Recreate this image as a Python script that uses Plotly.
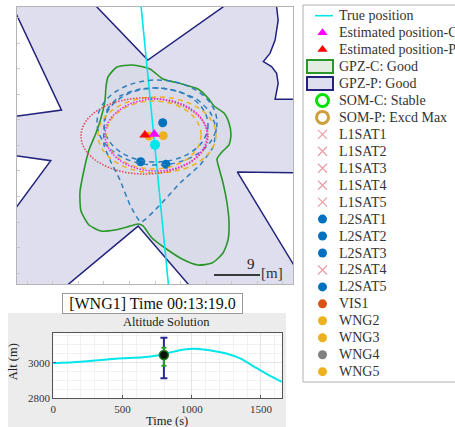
import plotly.graph_objects as go

# ---------------- main map data (metres) ----------------
true_x = [-3.0, 2.9]
true_y = [30.0, -30.0]
true_now_x = [0.0]
true_now_y = [0.1]

est_c_x = [-0.14]
est_c_y = [2.16]
est_p_x = [-1.96]
est_p_y = [2.03]

gpzp_x = [-30.3, -13.6, -1.4, 16.6, 23.8, 23.8, 24.1, 23.5, 22.5, 21.2, 22.8, 23.8, 24.1, 23.5,
          30.3, 30.3, 16.1, 30.3, 30.3, 9.2, -3.3, -20.7, -30.3, -30.3, -20.4, -30.3, -30.3, -18.3, -30.3]
gpzp_y = [32.4, 29.4, 16.7, 29.4, 29.4, 27.1, 24.5, 20.6, 18.0, 16.4, 15.4, 14.1, 12.1, 9.0,
          9.0, -5.4, -5.2, -28.6, -30.3, -30.3, -15.8, -30.3, -30.3, -16.4, -3.0, -1.6, 5.3, 6.9, 32.4]

gpzc_x = [-9.20, -7.44, -4.31, -0.98, 1.57, 5.28, 8.41, 10.37, 11.55, 13.50, 14.48, 14.87, 14.48,
          13.11, 12.13, 12.52, 13.31, 14.09, 14.48, 14.29, 13.31, 11.15, 8.41, 5.28, 1.96, -0.59,
          -2.35, -3.33, -5.48, -7.83, -10.57, -12.92, -14.48, -14.68, -13.89, -12.92, -11.55,
          -10.57, -9.78, -9.59, -9.20]
gpzc_y = [13.38, 15.33, 15.72, 14.94, 12.98, 12.01, 11.03, 9.27, 7.70, 6.33, 4.37, 2.03, 0.07,
          -1.30, -2.67, -4.43, -7.37, -11.28, -15.00, -18.52, -21.07, -23.03, -23.42, -22.24,
          -20.09, -18.13, -15.78, -15.39, -15.98, -16.57, -16.76, -15.59, -12.85, -9.13, -4.82,
          -0.91, 2.42, 5.35, 8.87, 11.42, 13.38]

kite_x = [-9.98, -9.39, -6.85, -2.94, 0.98, 4.89, 8.41, 10.76, 11.94, 11.35, 8.81, 4.89, 0.98,
          -2.74, -4.89, -6.85, -8.81, -9.98, -9.98]
kite_y = [3.00, 6.92, 9.66, 11.03, 11.22, 10.44, 8.87, 6.52, 3.40, -0.32, -3.84, -7.37, -11.66,
          -14.99, -11.66, -6.78, -2.87, 0.07, 3.00]

# error ellipses (bounding boxes, metres): 2 blue SOM, 2 WNG, P-solution, C-solution
ell_x0 = [-11.35, -9.98, -11.15, -9.59, -14.48, -9.78]
ell_x1 = [12.13, 10.37, 11.94, 9.00, 10.37, 10.18]
ell_y0 = [-3.85, -3.25, -5.41, -4.63, -5.61, -5.02]
ell_y1 = [12.79, 11.22, 9.46, 8.68, 9.27, 9.07]

l2sat_names = ["L2SAT1", "L2SAT2", "L2SAT3", "L2SAT5"]
l2sat_x = [1.51, -2.80, 2.15, None]
l2sat_y = [4.43, -3.20, -3.71, None]

wng_names = ["WNG2", "WNG3", "WNG4", "WNG5"]
wng_x = [1.62, -1.17, None, None]
wng_y = [1.89, 1.80, None, None]

l1sat_names = ["L1SAT1", "L1SAT2", "L1SAT3", "L1SAT4", "L1SAT5"]

scale_len_m = 9
scale_x0 = 11.55
scale_y = -25.37

# legend entries (in order)
legend_labels = ["True position", "Estimated position-C", "Estimated position-P", "GPZ-C: Good",
                 "GPZ-P: Good", "SOM-C: Stable", "SOM-P: Excd Max"] + l1sat_names + \
                ["L2SAT1", "L2SAT2", "L2SAT3", "L2SAT4", "L2SAT5", "VIS1"] + wng_names

# ---------------- altitude inset data ----------------
alt_t = [0, 200, 450, 650, 750, 870, 960, 1010, 1100, 1200, 1250, 1350, 1450, 1550, 1650]
alt_v = [2997, 3005, 3022, 3030, 3040, 3062, 3075, 3078, 3073, 3060, 3052, 3024, 2978, 2933, 2893]
sol_t = [799]
sol_alt = [3043]
err_p_plus, err_p_minus = [97], [130]
err_c_plus, err_c_minus = [41], [60]

SERIF = "Liberation Serif"
W, H = 455, 427

CYAN = "rgb(0,230,235)"
NAVY = "rgb(35,35,125)"
GREEN = "rgb(40,150,40)"
BLUE_D = "rgb(45,125,190)"
BLUE = "rgb(0,114,189)"
YEL = "rgb(237,177,32)"
PINK = "rgb(232,160,168)"
GRAY = "rgb(128,128,128)"
VIS = "rgb(217,83,25)"

fig = go.Figure()

# GPZ-P
fig.add_trace(go.Scatter(x=gpzp_x, y=gpzp_y, mode="lines", fill="toself", showlegend=False,
                         fillcolor="rgb(222,222,238)", line=dict(color=NAVY, width=1.5)))
# GPZ-C
fig.add_trace(go.Scatter(x=gpzc_x, y=gpzc_y, mode="lines", fill="toself", showlegend=False,
                         fillcolor="rgba(60,160,60,0.03)",
                         line=dict(color=GREEN, width=1.6, shape="spline", smoothing=0.6)))
# kite SOM contour
fig.add_trace(go.Scatter(x=kite_x, y=kite_y, mode="lines", showlegend=False,
                         line=dict(color=BLUE_D, width=1.5, dash="5px,4px", shape="spline", smoothing=0.5)))
# true track
fig.add_trace(go.Scatter(x=true_x, y=true_y, mode="lines", showlegend=False, line=dict(color=CYAN, width=1.6)))
# L2 sats
for n, xv, yv in zip(l2sat_names, l2sat_x, l2sat_y):
    fig.add_trace(go.Scatter(x=[xv], y=[yv], mode="markers", name=n, showlegend=False,
                             marker=dict(symbol="circle", size=9, color=BLUE)))
wng_cols = [YEL, YEL, GRAY, YEL]
for i, (n, xv, yv) in enumerate(zip(wng_names, wng_x, wng_y)):
    fig.add_trace(go.Scatter(x=[xv], y=[yv], mode="markers", name=n, showlegend=False,
                             marker=dict(symbol="circle", size=9, color=wng_cols[i])))
fig.add_trace(go.Scatter(x=true_now_x, y=true_now_y, mode="markers", showlegend=False,
                         marker=dict(symbol="circle", size=10, color=CYAN)))
fig.add_trace(go.Scatter(x=est_p_x, y=est_p_y, mode="markers", name="Estimated position-P", showlegend=False,
                         marker=dict(symbol="triangle-up", size=10, color="rgb(255,0,0)")))
fig.add_trace(go.Scatter(x=est_c_x, y=est_c_y, mode="markers", name="Estimated position-C", showlegend=False,
                         marker=dict(symbol="triangle-up", size=10, color="rgb(255,0,255)")))

# ---------------- altitude inset ----------------
fig.add_trace(go.Scatter(x=alt_t, y=alt_v, mode="lines", xaxis="x2", yaxis="y2", showlegend=False,
                         line=dict(color=CYAN, width=2, shape="spline", smoothing=0.8)))
fig.add_trace(go.Scatter(x=sol_t, y=sol_alt, mode="markers", xaxis="x2", yaxis="y2", showlegend=False,
                         marker=dict(size=1, color="rgba(0,0,0,0)"),
                         error_y=dict(type="data", array=err_p_plus, arrayminus=err_p_minus,
                                      color="rgb(40,40,150)", thickness=2, width=3.5)))
fig.add_trace(go.Scatter(x=sol_t, y=sol_alt, mode="markers", xaxis="x2", yaxis="y2", showlegend=False,
                         marker=dict(size=9, color="rgb(10,20,10)", line=dict(color="rgb(30,120,30)", width=1.5)),
                         error_y=dict(type="data", array=err_c_plus, arrayminus=err_c_minus,
                                      color="rgb(40,160,40)", thickness=2, width=2.5)))

# ---------------- manual legend (overlay axes in pixel units) ----------------
LEG_X0, LEG_Y0, LEG_DY = 303, 15.7, 16.95
SYM_X, TXT_X = 322.5, 336.5
row_y = [LEG_Y0 + LEG_DY * i for i in range(len(legend_labels))]
sym_style = [None, ("triangle-up", "rgb(255,0,255)"), ("triangle-up", "rgb(255,0,0)"), None, None,
             ("circle-open", "rgb(0,225,0)"), ("circle-open", "rgb(205,160,60)")] + \
            [("x-thin-open", PINK)] * 5 + \
            [("circle", BLUE)] * 3 + [("x-thin-open", PINK), ("circle", BLUE), ("circle", VIS),
                                      ("circle", YEL), ("circle", YEL), ("circle", GRAY), ("circle", YEL)]
for yy, st in zip(row_y, sym_style):
    if st is None:
        continue
    sym, col = st
    if sym == "circle-open":
        mk = dict(symbol=sym, size=12, color=col, line=dict(width=3, color=col))
    elif sym == "x-thin-open":
        mk = dict(symbol=sym, size=9, color=col, line=dict(width=1.3, color=col))
    else:
        mk = dict(symbol=sym, size=9, color=col)
    fig.add_trace(go.Scatter(x=[SYM_X], y=[yy], mode="markers", xaxis="x3", yaxis="y3",
                             showlegend=False, hoverinfo="skip", marker=mk, cliponaxis=False))

# ---------------- shapes ----------------
shapes = []
shapes.append(dict(type="rect", xref="paper", yref="paper", x0=8 / W, x1=286 / W, y0=-0.02, y1=1 - 313 / H,
                   fillcolor="rgb(236,236,236)", line=dict(width=0), layer="below"))
shapes.append(dict(type="rect", xref="paper", yref="paper", x0=53.3 / W, x1=281.7 / W,
                   y0=1 - 398.3 / H, y1=1 - 333.3 / H, fillcolor="white", line=dict(width=0), layer="below"))
shapes.append(dict(type="rect", xref="paper", yref="paper", x0=LEG_X0 / W, x1=470 / W,
                   y0=1 - 382 / H, y1=1 - 5 / H, fillcolor="white", line=dict(color="#b0b0b0", width=1),
                   layer="below"))
shapes.append(dict(type="line", xref="x3", yref="y3", x0=315, x1=333, y0=row_y[0], y1=row_y[0],
                   line=dict(color=CYAN, width=1.6)))
shapes.append(dict(type="rect", xref="x3", yref="y3", x0=307, x1=333, y0=row_y[3] - 6.5, y1=row_y[3] + 6.5,
                   fillcolor="rgb(226,238,226)", line=dict(color=GREEN, width=2)))
shapes.append(dict(type="rect", xref="x3", yref="y3", x0=307, x1=333, y0=row_y[4] - 6.5, y1=row_y[4] + 6.5,
                   fillcolor="rgb(222,222,238)", line=dict(color=NAVY, width=2)))

ell_cols = [BLUE_D, BLUE_D, YEL, YEL, "rgb(225,70,80)", "rgb(230,40,230)"]
ell_dash = ["5px,4px", "5px,4px", "5px,4px", "5px,4px", "1.5px,1.5px", "1.5px,1.5px"]
for x0, x1, y0, y1, c, d in zip(ell_x0, ell_x1, ell_y0, ell_y1, ell_cols, ell_dash):
    shapes.append(dict(type="circle", xref="x", yref="y", x0=x0, x1=x1, y0=y0, y1=y1,
                       line=dict(color=c, width=1.5, dash=d), layer="above"))
shapes.append(dict(type="line", xref="x", yref="y", x0=scale_x0, x1=scale_x0 + scale_len_m,
                   y0=scale_y, y1=scale_y, line=dict(color="black", width=1.5)))

annotations = [
    dict(text=str(scale_len_m), x=scale_x0 + 7.2, y=scale_y + 0.1, xref="x", yref="y", showarrow=False,
         yanchor="bottom", font=dict(family=SERIF, size=15, color="#222")),
    dict(text="[m]", x=scale_x0 + scale_len_m + 2.4, y=scale_y + 0.4, xref="x", yref="y", showarrow=False,
         yanchor="middle", font=dict(family=SERIF, size=15, color="#333")),
    dict(text="[WNG1] Time 00:13:19.0", x=152.5 / W, y=1 - 303.5 / H, xref="paper", yref="paper",
         showarrow=False, xanchor="center", yanchor="middle", bgcolor="white", bordercolor="#999",
         borderwidth=1, borderpad=1, width=177, font=dict(family=SERIF, size=16, color="#111")),
    dict(text="Altitude Solution", x=166.7 / W, y=1 - 321.7 / H, xref="paper", yref="paper",
         showarrow=False, xanchor="center", yanchor="middle", font=dict(family=SERIF, size=12.5, color="#222")),
    dict(text="Alt (m)", x=13.3 / W, y=1 - 362 / H, xref="paper", yref="paper", textangle=-90,
         showarrow=False, xanchor="center", yanchor="middle", font=dict(family=SERIF, size=12.5, color="#222")),
    dict(text="Time (s)", x=166.7 / W, y=1 - 421 / H, xref="paper", yref="paper",
         showarrow=False, xanchor="center", yanchor="middle", font=dict(family=SERIF, size=12.5, color="#222")),
]
for yy, lab in zip(row_y, legend_labels):
    annotations.append(dict(text=lab, x=TXT_X, y=yy, xref="x3", yref="y3", showarrow=False,
                            xanchor="left", yanchor="middle", font=dict(family=SERIF, size=14, color="#333")))

fig.update_layout(
    width=W, height=H,
    margin=dict(l=0, r=0, t=0, b=0, autoexpand=False),
    paper_bgcolor="white", plot_bgcolor="rgba(0,0,0,0)",
    shapes=shapes, annotations=annotations,
    showlegend=False,
    xaxis=dict(domain=[16.7 / W, 293.3 / W], range=[-27.06, 27.06], showgrid=False, zeroline=False,
               showticklabels=False, showline=True, mirror=True, linecolor="#b5b5b5", linewidth=1,
               ticks="inside", ticklen=3, tickcolor="#c8c8c8", dtick=5, tick0=0),
    yaxis=dict(domain=[1 - 284 / H, 1 - 6.7 / H], range=[-27.13, 27.13], showgrid=False, zeroline=False,
               showticklabels=False, showline=True, mirror=True, linecolor="#b5b5b5", linewidth=1,
               ticks="inside", ticklen=3, tickcolor="#c8c8c8", dtick=5, tick0=0),
    xaxis2=dict(domain=[53.3 / W, 281.7 / W], range=[0, 1650], anchor="y2", tickvals=[0, 500, 1000, 1500],
                showgrid=True, gridcolor="#e4e4e4", zeroline=False, showline=True, mirror=True,
                linecolor="#555", linewidth=1, ticks="inside", ticklen=3, tickcolor="#555",
                tickfont=dict(family=SERIF, size=11, color="#333"),
                minor=dict(dtick=100, showgrid=True, gridcolor="#f1f1f1")),
    yaxis2=dict(domain=[1 - 398.3 / H, 1 - 333.3 / H], range=[2800, 3165], anchor="x2", tickvals=[2800, 3000],
                showgrid=True, gridcolor="#e4e4e4", zeroline=False, showline=True, mirror=True,
                linecolor="#555", linewidth=1, ticks="inside", ticklen=3, tickcolor="#555",
                tickfont=dict(family=SERIF, size=11, color="#333"),
                minor=dict(dtick=50, showgrid=True, gridcolor="#f1f1f1")),
    xaxis3=dict(domain=[0, 1], range=[0, W], anchor="y3", visible=False, fixedrange=True),
    yaxis3=dict(domain=[0, 1], range=[H, 0], anchor="x3", visible=False, fixedrange=True),
)

fig.write_html("out.html", config={"displayModeBar": False},
               post_script="document.body.style.margin='0';document.body.style.overflow='hidden';")
